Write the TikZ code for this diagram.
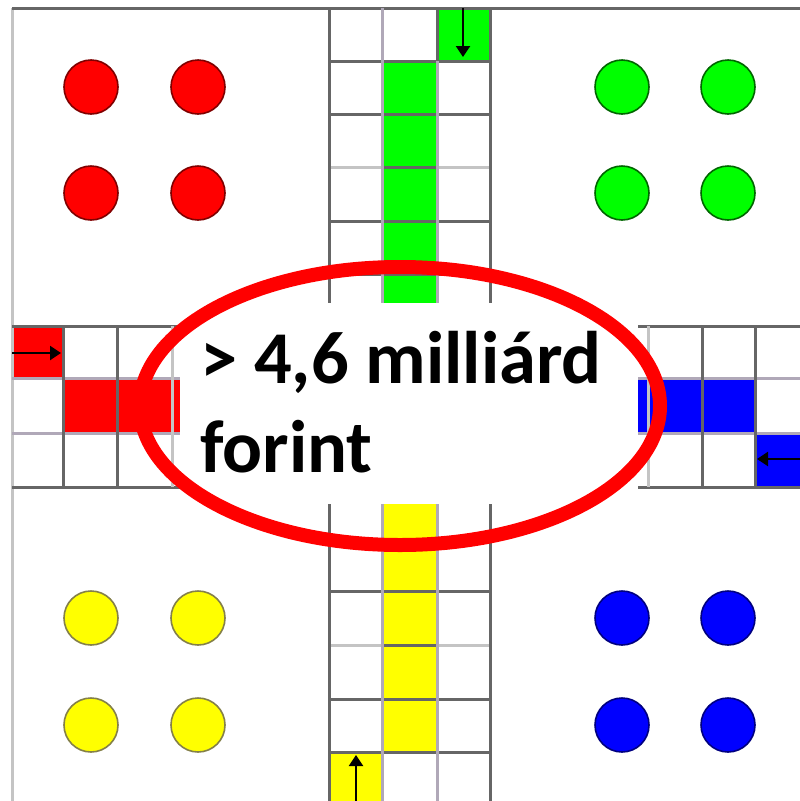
\documentclass[tikz,border=0pt]{standalone}
\usepackage{fontspec}
\setmainfont{Carlito}
\usetikzlibrary{arrows.meta}
\definecolor{gridgray}{HTML}{666666}
\definecolor{lightgrid}{HTML}{B0A8B8}
\definecolor{paleline}{HTML}{C4C4C4}
\definecolor{lred}{HTML}{FF0000}
\definecolor{lgreen}{HTML}{00FF00}
\definecolor{lblue}{HTML}{0000FF}
\definecolor{lyellow}{HTML}{FFFF00}
\tikzset{
  gridline/.style={draw=gridgray, line width=3pt},
  softline/.style={draw=lightgrid, line width=3pt},
  paleln/.style={draw=paleline, line width=3pt},
  token/.style={circle, minimum size=54pt, inner sep=0pt, line width=1.6pt},
  moveto/.style={draw=black, line width=2.4pt, -{Triangle[width=14pt,length=11pt]}},
  label/.style={font=\bfseries\fontsize{74.5}{90}\selectfont, inner sep=0pt, text=black}
}
\begin{document}
\begin{tikzpicture}[x=1pt,y=-1pt]
\useasboundingbox (0,0) rectangle (800,801);
\fill[white] (0,0) rectangle (800,801);

% ---------- coloured fields ----------
\fill[lgreen] (437,8) rectangle (490,61);
\fill[lgreen] (382,61) rectangle (437,303);
\fill[lred] (12,326) rectangle (63,378);
\fill[lred] (63,378) rectangle (180,433);
\fill[lblue] (638,378) rectangle (755,434);
\fill[lblue] (755,434) rectangle (800,487);
\fill[lyellow] (382,504) rectangle (437,752);
\fill[lyellow] (329,752) rectangle (382,801);

% ---------- outer frame ----------
\draw[paleln] (12,8) -- (12,801);
\draw[gridline] (12,8) -- (800,8);

% ---------- top arm ----------
\foreach \yy in {61,114,221,274} \draw[gridline] (329,\yy) -- (490,\yy);
\draw[paleln] (329,167) -- (490,167);
\draw[gridline] (382,167) -- (437,167);
\draw[gridline] (329,8) -- (329,303);
\draw[gridline] (490,8) -- (490,303);
\draw[softline] (382,8) -- (382,303);
\draw[softline] (437,61) -- (437,303);
\draw[gridline] (437,8) -- (437,61);

% ---------- bottom arm ----------
\foreach \yy in {539,591,699,752} \draw[gridline] (329,\yy) -- (490,\yy);
\draw[paleln] (329,645) -- (490,645);
\draw[gridline] (382,645) -- (437,645);
\draw[gridline] (329,504) -- (329,801);
\draw[gridline] (490,504) -- (490,801);
\draw[softline] (382,504) -- (382,801);
\draw[softline] (437,504) -- (437,801);

% ---------- left arm ----------
\foreach \yy in {326,487} \draw[gridline] (12,\yy) -- (180,\yy);
\draw[softline] (12,378) -- (180,378);
\draw[softline] (12,433) -- (180,433);
\draw[gridline] (63,326) -- (63,487);
\draw[gridline] (117,326) -- (117,487);
\draw[paleln] (172,326) -- (172,487);

% ---------- right arm ----------
\foreach \yy in {326,487} \draw[gridline] (638,\yy) -- (800,\yy);
\draw[softline] (638,378) -- (800,378);
\draw[softline] (638,433) -- (800,433);
\draw[paleln] (648,326) -- (648,487);
\draw[gridline] (702,326) -- (702,487);
\draw[gridline] (755,326) -- (755,487);

% ---------- start arrows ----------
\coordinate (ga) at (463,8);   \coordinate (gb) at (463,57);
\coordinate (ra) at (12,353);  \coordinate (rb) at (61,353);
\coordinate (ba) at (800,459); \coordinate (bb) at (757,459);
\coordinate (ya) at (356,801); \coordinate (yb) at (356,755);
\draw[moveto] (ga) -- (gb);
\draw[moveto] (ra) -- (rb);
\draw[moveto] (ba) -- (bb);
\draw[moveto] (ya) -- (yb);

% ---------- home tokens ----------
\foreach \cx in {91,198} \foreach \cy in {87,193}
  \node[token, fill=lred, draw=red!50!black] (r\cx\cy) at (\cx,\cy) {};
\foreach \cx in {622,728} \foreach \cy in {87,193}
  \node[token, fill=lgreen, draw=green!40!black] (g\cx\cy) at (\cx,\cy) {};
\foreach \cx in {91,198} \foreach \cy in {618,725}
  \node[token, fill=lyellow, draw=yellow!45!black] (y\cx\cy) at (\cx,\cy) {};
\foreach \cx in {622,728} \foreach \cy in {618,725}
  \node[token, fill=lblue, draw=blue!50!black] (b\cx\cy) at (\cx,\cy) {};

% ---------- highlight ellipse ----------
\draw[lred, line width=14pt] (400,406) ellipse [x radius=260, y radius=139];
\node[label, anchor=base west] (line1) at (200,383) {> 4,6 milliárd};
\node[label, anchor=base west] (line2) at (200,472) {forint};
\end{tikzpicture}
\end{document}
